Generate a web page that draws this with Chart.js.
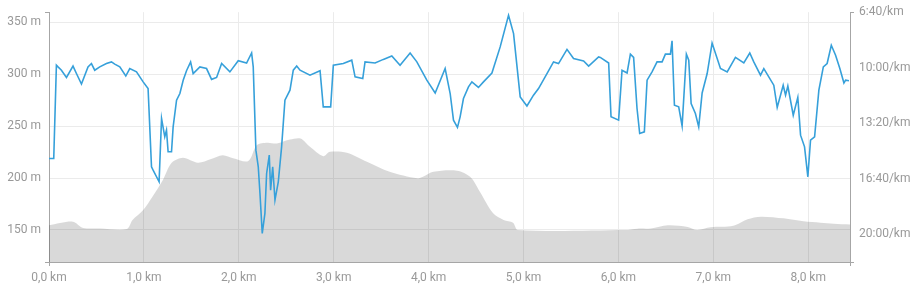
<!DOCTYPE html>
<html lang="de">
<head>
  <meta charset="UTF-8">
  <title>Höhe und Pace</title>
  <script src="https://cdn.jsdelivr.net/npm/chart.js"></script>
  <style>
    body { margin: 0; background: #fff; }
    #wrap { width: 919px; height: 290px; position: relative; }
  </style>
</head>
<body>
  <div id="wrap"><canvas id="profil"></canvas></div>
  <script>
    // Höhenprofil (km, m)
    const elevKm = [0, 0.25, 0.36, 0.54, 0.82, 0.88, 0.99, 1.09, 1.2, 1.29, 1.41, 1.57, 1.7, 1.83, 1.94, 2.1, 2.19, 2.3, 2.4, 2.54, 2.65, 2.75, 2.89, 2.96, 3.14, 3.35, 3.59, 3.88, 3.94, 4.05, 4.3, 4.44, 4.54, 4.68, 4.79, 4.89, 4.94, 6.07, 6.2, 6.34, 6.52, 6.73, 6.83, 6.97, 7.21, 7.36, 7.5, 7.74, 7.95, 8.13, 8.27, 8.44];
    const elevM = [154.5, 158, 152, 151.5, 151, 159.6, 169, 182, 198, 214.4, 219.5, 214.7, 218, 222, 219, 216.3, 231.7, 234, 233.3, 237, 238, 230, 221, 225.3, 224.4, 215.7, 206, 199.7, 201.3, 206, 207, 201, 186.8, 166, 159.6, 157, 150, 150, 151.3, 151.5, 154.5, 153, 150, 152.6, 154, 160.3, 162.8, 161.2, 158.3, 157, 156, 155.3];

    // Pace (km, Sekunden pro km)
    const paceKm = [0, 0.05, 0.078, 0.095, 0.131, 0.184, 0.253, 0.289, 0.342, 0.411, 0.447, 0.482, 0.535, 0.605, 0.658, 0.693, 0.746, 0.809, 0.851, 0.922, 0.992, 1.044, 1.08, 1.097, 1.16, 1.186, 1.22, 1.238, 1.255, 1.291, 1.308, 1.344, 1.379, 1.414, 1.449, 1.492, 1.519, 1.59, 1.66, 1.713, 1.766, 1.819, 1.906, 1.994, 2.082, 2.135, 2.152, 2.18, 2.205, 2.223, 2.247, 2.275, 2.293, 2.321, 2.335, 2.357, 2.381, 2.416, 2.451, 2.486, 2.539, 2.574, 2.61, 2.645, 2.75, 2.856, 2.89, 2.968, 2.996, 3.101, 3.19, 3.225, 3.306, 3.33, 3.436, 3.523, 3.612, 3.699, 3.805, 3.876, 3.981, 4.069, 4.174, 4.227, 4.262, 4.304, 4.332, 4.367, 4.42, 4.456, 4.525, 4.578, 4.667, 4.754, 4.842, 4.895, 4.965, 5.036, 5.105, 5.158, 5.247, 5.316, 5.369, 5.458, 5.527, 5.633, 5.686, 5.791, 5.809, 5.897, 5.922, 6.002, 6.038, 6.091, 6.126, 6.16, 6.196, 6.224, 6.273, 6.302, 6.354, 6.407, 6.46, 6.495, 6.548, 6.565, 6.59, 6.635, 6.671, 6.716, 6.741, 6.766, 6.811, 6.846, 6.882, 6.935, 6.987, 7.075, 7.146, 7.233, 7.321, 7.384, 7.426, 7.497, 7.532, 7.637, 7.673, 7.736, 7.761, 7.785, 7.842, 7.89, 7.919, 7.961, 7.996, 8.024, 8.067, 8.112, 8.159, 8.199, 8.243, 8.288, 8.333, 8.376, 8.394, 8.429];
    const paceSec = [927, 927, 591, 597, 609, 635, 594, 621, 659, 597, 585, 609, 597, 585, 579, 587, 597, 630, 603, 615, 651, 675, 957, 969, 1011, 783, 849, 825, 903, 903, 813, 717, 693, 645, 611, 579, 621, 597, 603, 642, 635, 585, 615, 575, 583, 547, 597, 897, 957, 1053, 1197, 1125, 981, 915, 1041, 957, 1077, 1011, 885, 717, 681, 609, 594, 609, 627, 611, 741, 741, 591, 585, 573, 633, 639, 579, 583, 570, 558, 591, 547, 579, 645, 691, 603, 693, 789, 815, 777, 711, 669, 651, 671, 651, 619, 525, 411, 477, 705, 738, 699, 675, 621, 579, 585, 534, 567, 576, 594, 561, 563, 583, 777, 789, 609, 619, 551, 563, 747, 837, 831, 645, 615, 579, 579, 551, 551, 503, 735, 741, 810, 551, 573, 729, 765, 813, 691, 621, 511, 603, 615, 563, 583, 547, 579, 627, 603, 663, 743, 663, 699, 666, 771, 707, 843, 885, 993, 861, 849, 681, 597, 585, 519, 555, 603, 655, 645, 647];

    // Achsenbeschriftungen
    const kmTicks = [0, 1, 2, 3, 4, 5, 6, 7, 8];
    const elevTicks = [150, 200, 250, 300, 350];
    const paceTicks = [400, 600, 800, 1000, 1200];

    const textColor = '#999';
    const gridColor = '#ebebeb';
    const axisColor = '#a6a6a6';

    function isBound(c) {
      return c.tick && (c.tick.value === c.scale.min || c.tick.value === c.scale.max);
    }
    // Endpunkte der Achse bekommen nur einen Strich, keine Gitterlinie
    function withBounds(list) {
      return function(scale) {
        const vals = [scale.min].concat(list).concat([scale.max]);
        const uniq = vals.filter((v, i) => vals.indexOf(v) === i);
        scale.ticks = uniq.map(v => ({ value: v }));
      };
    }
    function gridOpts() {
      return {
        color: c => isBound(c) ? 'transparent' : gridColor,
        tickColor: c => isBound(c) ? axisColor : 'transparent',
        tickLength: 4,
        drawTicks: true
      };
    }
    function fmtPace(sec) {
      const m = Math.floor(sec / 60);
      const s = Math.round(sec % 60);
      return m + ':' + (s < 10 ? '0' : '') + s + '/km';
    }

    Chart.defaults.font.family = 'Roboto, sans-serif';
    Chart.defaults.font.size = 12;
    Chart.defaults.color = textColor;

    new Chart(document.getElementById('profil'), {
      type: 'line',
      data: {
        datasets: [
          {
            label: 'Pace',
            data: paceKm.map((k, i) => ({ x: k, y: paceSec[i] })),
            yAxisID: 'yPace',
            borderColor: '#36a0da',
            borderWidth: 1.6,
            pointRadius: 0,
            tension: 0,
            fill: false,
            order: 0
          },
          {
            label: 'Höhe',
            data: elevKm.map((k, i) => ({ x: k, y: elevM[i] })),
            yAxisID: 'yElev',
            borderWidth: 0,
            borderColor: 'rgba(0,0,0,0)',
            backgroundColor: 'rgba(0,0,0,0.15)',
            pointRadius: 0,
            tension: 0.3,
            fill: 'start',
            order: 1
          }
        ]
      },
      options: {
        responsive: true,
        maintainAspectRatio: false,
        animation: false,
        layout: { padding: { top: 12, left: 0, right: 0, bottom: 0 } },
        plugins: { legend: { display: false }, tooltip: { enabled: false } },
        scales: {
          x: {
            type: 'linear',
            min: 0,
            max: 8.44,
            afterBuildTicks: withBounds(kmTicks),
            afterFit: s => { s.height = 28; },
            border: { color: axisColor },
            grid: gridOpts(),
            ticks: {
              padding: 5,
              maxRotation: 0,
              autoSkip: false,
              callback: (v, i, t) => (i === t.length - 1) ? '' : v.toFixed(1).replace('.', ',') + ' km'
            }
          },
          yElev: {
            type: 'linear',
            position: 'left',
            min: 119.2,
            max: 359.6,
            afterBuildTicks: withBounds(elevTicks),
            afterFit: s => { s.width = 49; },
            border: { color: axisColor },
            grid: gridOpts(),
            ticks: {
              padding: 4,
              callback: (v, i, t) => (i === 0 || i === t.length - 1) ? '' : v + ' m'
            }
          },
          yPace: {
            type: 'linear',
            position: 'right',
            reverse: true,
            min: 400,
            max: 1300,
            afterBuildTicks: s => {
              s.ticks = paceTicks.concat([s.max]).map(v => ({ value: v }));
            },
            afterFit: s => { s.width = 69; },
            border: { color: axisColor },
            grid: {
              drawOnChartArea: false,
              tickColor: c => (c.tick && (c.tick.value === 400 || c.tick.value === 1300)) ? axisColor : 'transparent',
              tickLength: 4
            },
            ticks: {
              padding: 5,
              callback: v => v === 1300 ? '' : fmtPace(v)
            }
          }
        }
      }
    });
  </script>
</body>
</html>
